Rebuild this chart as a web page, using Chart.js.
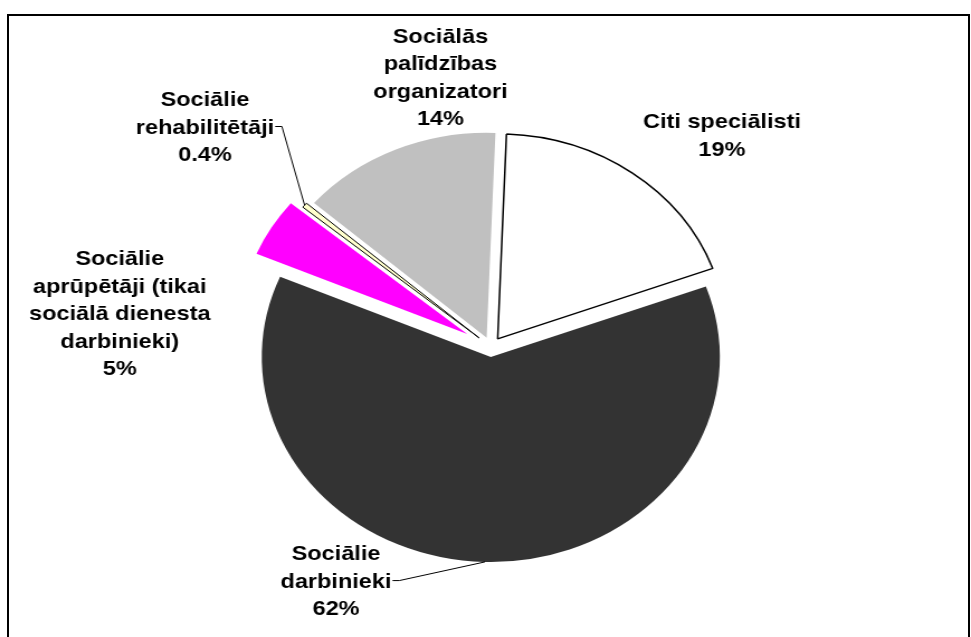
<!DOCTYPE html>
<html>
<head>
<meta charset="utf-8">
<script src="https://cdn.jsdelivr.net/npm/chart.js@4"></script>
<style>
  html, body { margin: 0; padding: 0; background: #fff; overflow: hidden; width: 971px; height: 637px; }
  #frame { position: absolute; left: 7px; top: 14px; width: 963px; height: 700px; box-sizing: border-box;
           border: 2px solid #000; border-bottom: none; }
  #c { position: absolute; left: 0; top: 0; transform-origin: 0 0; }
</style>
</head>
<body>
<div id="frame"></div>
<canvas id="c" width="869" height="637"></canvas>
<script>
// ---- data ----
const categories = [
  'Citi speciālisti',
  'Sociālie darbinieki',
  'Sociālie aprūpētāji (tikai sociālā dienesta darbinieki)',
  'Sociālie rehabilitētāji',
  'Sociālās palīdzības organizatori'
];
const shares = [18.8, 62.0, 4.6, 0.4, 14.2];
const percentLabels = ['19%', '62%', '5%', '0.4%', '14%'];
const labelLines = [
  ['Citi speciālisti'],
  ['Sociālie', 'darbinieki'],
  ['Sociālie', 'aprūpētāji (tikai', 'sociālā dienesta', 'darbinieki)'],
  ['Sociālie', 'rehabilitētāji'],
  ['Sociālās', 'palīdzības', 'organizatori']
];

// ---- styles / layout ----
const colors = ['#ffffff', '#333333', '#ff00ff', '#ffffcc', '#c0c0c0'];
const borderWidths = [1.5, 0, 0, 1, 0];
const explode = [10, 10, 25, 14, 10];
// label block centre relative to pie centre, in units of radius
const labelPos = [[1.008, -1.037], [-0.677, 1.137], [-1.621, -0.168], [-1.249, -1.078], [-0.221, -1.320]];
const leaderLine = [-1, 1, -1, 1, -1]; // line index the leader attaches to (-1 = none)

const W = 869, H = 637, SX = 971 / W;
const canvas = document.getElementById('c');
canvas.style.transform = 'scaleX(' + SX + ')';

const explodePlugin = {
  id: 'explode',
  beforeDatasetsDraw(chart) {
    const arcs = chart.getDatasetMeta(0).data;
    arcs.forEach((a, i) => {
      a._ox = a.x; a._oy = a.y;
      const mid = (a.startAngle + a.endAngle) / 2;
      a.x = a._ox + Math.cos(mid) * explode[i];
      a.y = a._oy + Math.sin(mid) * explode[i];
    });
  },
  afterDatasetsDraw(chart) {
    const ctx = chart.ctx;
    const arcs = chart.getDatasetMeta(0).data;
    const LH = 27.5;
    ctx.save();
    ctx.font = 'bold 21px "Liberation Sans", Arial, sans-serif';
    ctx.fillStyle = '#000';
    ctx.textAlign = 'center';
    ctx.textBaseline = 'alphabetic';
    arcs.forEach((a, i) => {
      const R = a.outerRadius;
      const cx = a._ox + labelPos[i][0] * R;
      const cy = a._oy + labelPos[i][1] * R;
      const lines = labelLines[i].concat([percentLabels[i]]);
      const first = cy - (lines.length - 1) * LH / 2 + 7.5;
      lines.forEach((t, k) => ctx.fillText(t, cx, first + k * LH));
      const li = leaderLine[i];
      if (li >= 0) {
        const w = ctx.measureText(lines[li]).width;
        const sx = cx + w / 2 + 1;
        const sy = first + li * LH - 7;
        const mid = (a.startAngle + a.endAngle) / 2;
        const ex = a.x + Math.cos(mid) * R;
        const ey = a.y + Math.sin(mid) * R;
        ctx.beginPath();
        ctx.lineWidth = 1;
        ctx.strokeStyle = '#000';
        ctx.moveTo(sx, sy);
        ctx.lineTo(sx + 6, sy);
        ctx.lineTo(ex, ey);
        ctx.stroke();
      }
    });
    ctx.restore();
    arcs.forEach(a => { a.x = a._ox; a.y = a._oy; });
  }
};

new Chart(canvas, {
  type: 'pie',
  data: {
    labels: categories,
    datasets: [{
      data: shares,
      backgroundColor: colors,
      borderColor: '#000000',
      borderWidth: borderWidths,
      offset: 0
    }]
  },
  options: {
    responsive: false,
    animation: false,
    devicePixelRatio: 1,
    radius: 205,
    rotation: 2.2,
    layout: { padding: { left: 10, top: 57, right: 0, bottom: 0 } },
    plugins: { legend: { display: false }, tooltip: { enabled: false } }
  },
  plugins: [explodePlugin]
});
</script>
</body>
</html>
